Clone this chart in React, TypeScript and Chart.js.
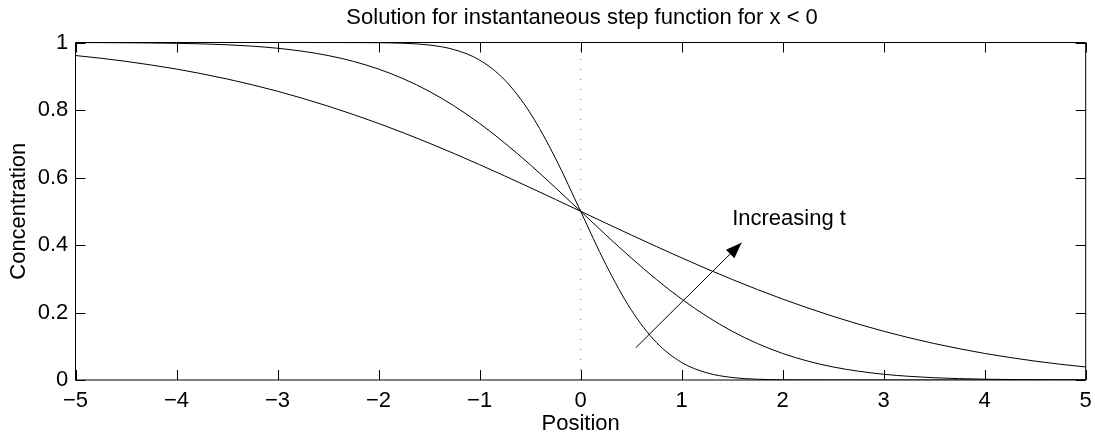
import React, { useEffect, useRef } from "react";
import { Chart, registerables } from "chart.js";

Chart.register(...registerables);

// Positions (x) shared by the three curves
const positions = [
  -5, -4.75, -4.5, -4.25, -4, -3.75, -3.5, -3.25, -3, -2.75,
  -2.5, -2.25, -2, -1.75, -1.5, -1.25, -1, -0.75, -0.5, -0.25,
  0,
  0.25, 0.5, 0.75, 1, 1.25, 1.5, 1.75, 2, 2.25, 2.5,
  2.75, 3, 3.25, 3.5, 3.75, 4, 4.25, 4.5, 4.75, 5,
];

// Earliest time (steepest profile)
const concentrationEarly = [
  1, 1, 1, 1, 1, 1, 1, 1, 1, 1,
  0.9999, 0.9998, 0.9994, 0.9977, 0.9926, 0.9787, 0.948, 0.8885, 0.7917, 0.6577,
  0.5,
  0.3423, 0.2083, 0.1115, 0.052, 0.0213, 0.0074, 0.0023, 0.0006, 0.0002, 0.0001,
  0, 0, 0, 0, 0, 0, 0, 0, 0, 0,
];

// Intermediate time
const concentrationMid = [
  0.9998, 0.9996, 0.9992, 0.9986, 0.9976, 0.9959, 0.9933, 0.9891, 0.983, 0.9739,
  0.9614, 0.9441, 0.9213, 0.8919, 0.8556, 0.8115, 0.7602, 0.702, 0.6381, 0.5701,
  0.5,
  0.4299, 0.3619, 0.298, 0.2398, 0.1885, 0.1444, 0.1081, 0.0787, 0.0559, 0.0386,
  0.0261, 0.017, 0.0109, 0.0067, 0.0041, 0.0024, 0.0014, 0.0008, 0.0004, 0.0002,
];

// Latest time (widest profile)
const concentrationLate = [
  0.9614, 0.9534, 0.9441, 0.9333, 0.9213, 0.9074, 0.8919, 0.8747, 0.8556, 0.8344,
  0.8115, 0.7867, 0.7602, 0.7319, 0.702, 0.6707, 0.6381, 0.6045, 0.5701, 0.5352,
  0.5,
  0.4648, 0.4299, 0.3955, 0.3619, 0.3293, 0.298, 0.2681, 0.2398, 0.2133, 0.1885,
  0.1656, 0.1444, 0.1253, 0.1081, 0.0926, 0.0787, 0.0667, 0.0559, 0.0466, 0.0386,
];

// Dotted line at the step location
const stepLineX = [0, 0];
const stepLineY = [0, 1];

// "Increasing t" arrow (tail -> tip)
const arrowX = [0.547, 1.593];
const arrowY = [0.0957, 0.4068];

// Annotation
const annotationText = "Increasing t";
const annotationPos = [1.5, 0.477];

const xTicks = [-5, -4, -3, -2, -1, 0, 1, 2, 3, 4, 5];
const yTicks = [0, 0.2, 0.4, 0.6, 0.8, 1];

const titleText = "Solution for instantaneous step function for x < 0";
const xLabel = "Position";
const yLabel = "Concentration";

const FONT = "'Liberation Sans', Arial, Helvetica, sans-serif";
const FONT_SIZE = 22;

const toPoints = (xs: number[], ys: number[]) => xs.map((x, i) => ({ x, y: ys[i] }));

const framePlugin = {
  id: "framePlugin",
  afterDraw(chart: any) {
    const { ctx, chartArea, scales } = chart;
    const xs = scales.x;
    const ys = scales.y;
    const { left, right, top, bottom } = chartArea;
    ctx.save();
    ctx.strokeStyle = "#000";
    ctx.lineWidth = 1;
    ctx.beginPath();
    ctx.rect(left, top, right - left, bottom - top);
    ctx.stroke();
    const tl = 10;
    ctx.beginPath();
    xTicks.forEach((v) => {
      const px = Math.round(xs.getPixelForValue(v)) + 0.5;
      ctx.moveTo(px, bottom);
      ctx.lineTo(px, bottom - tl);
      ctx.moveTo(px, top);
      ctx.lineTo(px, top + tl);
    });
    yTicks.forEach((v) => {
      const py = Math.round(ys.getPixelForValue(v)) + 0.5;
      ctx.moveTo(left, py);
      ctx.lineTo(left + tl, py);
      ctx.moveTo(right, py);
      ctx.lineTo(right - tl, py);
    });
    ctx.stroke();

    // arrow head
    const x0 = xs.getPixelForValue(arrowX[0]);
    const y0 = ys.getPixelForValue(arrowY[0]);
    const x1 = xs.getPixelForValue(arrowX[1]);
    const y1 = ys.getPixelForValue(arrowY[1]);
    const ang = Math.atan2(y1 - y0, x1 - x0);
    const hl = 16;
    const hw = 6;
    const bx = x1 - hl * Math.cos(ang);
    const by = y1 - hl * Math.sin(ang);
    ctx.fillStyle = "#000";
    ctx.beginPath();
    ctx.moveTo(x1, y1);
    ctx.lineTo(bx + hw * Math.sin(ang), by - hw * Math.cos(ang));
    ctx.lineTo(bx - hw * Math.sin(ang), by + hw * Math.cos(ang));
    ctx.closePath();
    ctx.fill();

    ctx.font = `${FONT_SIZE}px ${FONT}`;
    ctx.fillStyle = "#000";
    ctx.textBaseline = "middle";

    // annotation text
    ctx.textAlign = "left";
    ctx.fillText(
      annotationText,
      xs.getPixelForValue(annotationPos[0]),
      ys.getPixelForValue(annotationPos[1])
    );

    // title, centred over the plot area
    ctx.textAlign = "center";
    ctx.fillText(titleText, (left + right) / 2 + 1.5, 17.5);
    ctx.restore();
  },
};

export default function App() {
  const canvasRef = useRef<HTMLCanvasElement | null>(null);

  useEffect(() => {
    const canvas = canvasRef.current;
    if (!canvas) return;
    Chart.defaults.font.family = FONT;
    Chart.defaults.font.size = FONT_SIZE;
    Chart.defaults.color = "#000";

    const curveStyle = {
      borderColor: "#000",
      borderWidth: 1,
      pointRadius: 0,
      fill: false,
      cubicInterpolationMode: "monotone" as const,
    };

    const chart = new Chart(canvas, {
      type: "line",
      data: {
        datasets: [
          {
            label: "step",
            data: toPoints(stepLineX, stepLineY),
            borderColor: "#777",
            borderWidth: 1,
            borderDash: [1, 9],
            pointRadius: 0,
            fill: false,
          },
          { label: "t1", data: toPoints(positions, concentrationEarly), ...curveStyle },
          { label: "t2", data: toPoints(positions, concentrationMid), ...curveStyle },
          { label: "t3", data: toPoints(positions, concentrationLate), ...curveStyle },
          {
            label: "arrow",
            data: toPoints(arrowX, arrowY),
            borderColor: "#000",
            borderWidth: 1,
            pointRadius: 0,
            fill: false,
          },
        ],
      },
      options: {
        animation: false,
        responsive: false,
        events: [],
        layout: { padding: { left: 0, right: 9.3, top: 42.5, bottom: 0 } },
        plugins: {
          legend: { display: false },
          tooltip: { enabled: false },
          title: { display: false },
        },
        scales: {
          x: {
            type: "linear",
            min: -5,
            max: 5,
            afterFit: (s: any) => {
              s.height = 59;
              s.paddingLeft = 0;
              s.paddingRight = 0;
            },
            afterBuildTicks: (s: any) => {
              s.ticks = xTicks.map((v) => ({ value: v }));
            },
            ticks: {
              padding: 8,
              maxRotation: 0,
              autoSkip: false,
              color: "#000",
              font: { size: FONT_SIZE, family: FONT },
              callback: (v: any) => (Number(v) < 0 ? "\u2212" + Math.abs(Number(v)) : String(v)),
            },
            grid: { display: false, drawTicks: false },
            border: { display: false },
            title: {
              display: true,
              text: xLabel,
              color: "#000",
              font: { size: FONT_SIZE, family: FONT },
              padding: { top: 0, bottom: 1.5 },
            },
          },
          y: {
            type: "linear",
            min: 0,
            max: 1,
            afterFit: (s: any) => {
              s.width = 75.5;
              s.paddingTop = 0;
              s.paddingBottom = 0;
            },
            afterBuildTicks: (s: any) => {
              s.ticks = yTicks.map((v) => ({ value: v }));
            },
            ticks: {
              padding: 7.2,
              autoSkip: false,
              color: "#000",
              font: { size: FONT_SIZE, family: FONT },
              callback: (v: any) => String(Number(Number(v).toFixed(1))),
            },
            grid: { display: false, drawTicks: false },
            border: { display: false },
            title: {
              display: true,
              text: yLabel,
              color: "#000",
              font: { size: FONT_SIZE, family: FONT },
              padding: { top: 6, bottom: 0 },
            },
          },
        },
      },
      plugins: [framePlugin],
    });

    return () => chart.destroy();
  }, []);

  return (
    <div style={{ position: "fixed", left: 0, top: 0, width: 1095, height: 439, background: "#fff" }}>
      <canvas ref={canvasRef} width={1095} height={439} style={{ display: "block" }} />
    </div>
  );
}
